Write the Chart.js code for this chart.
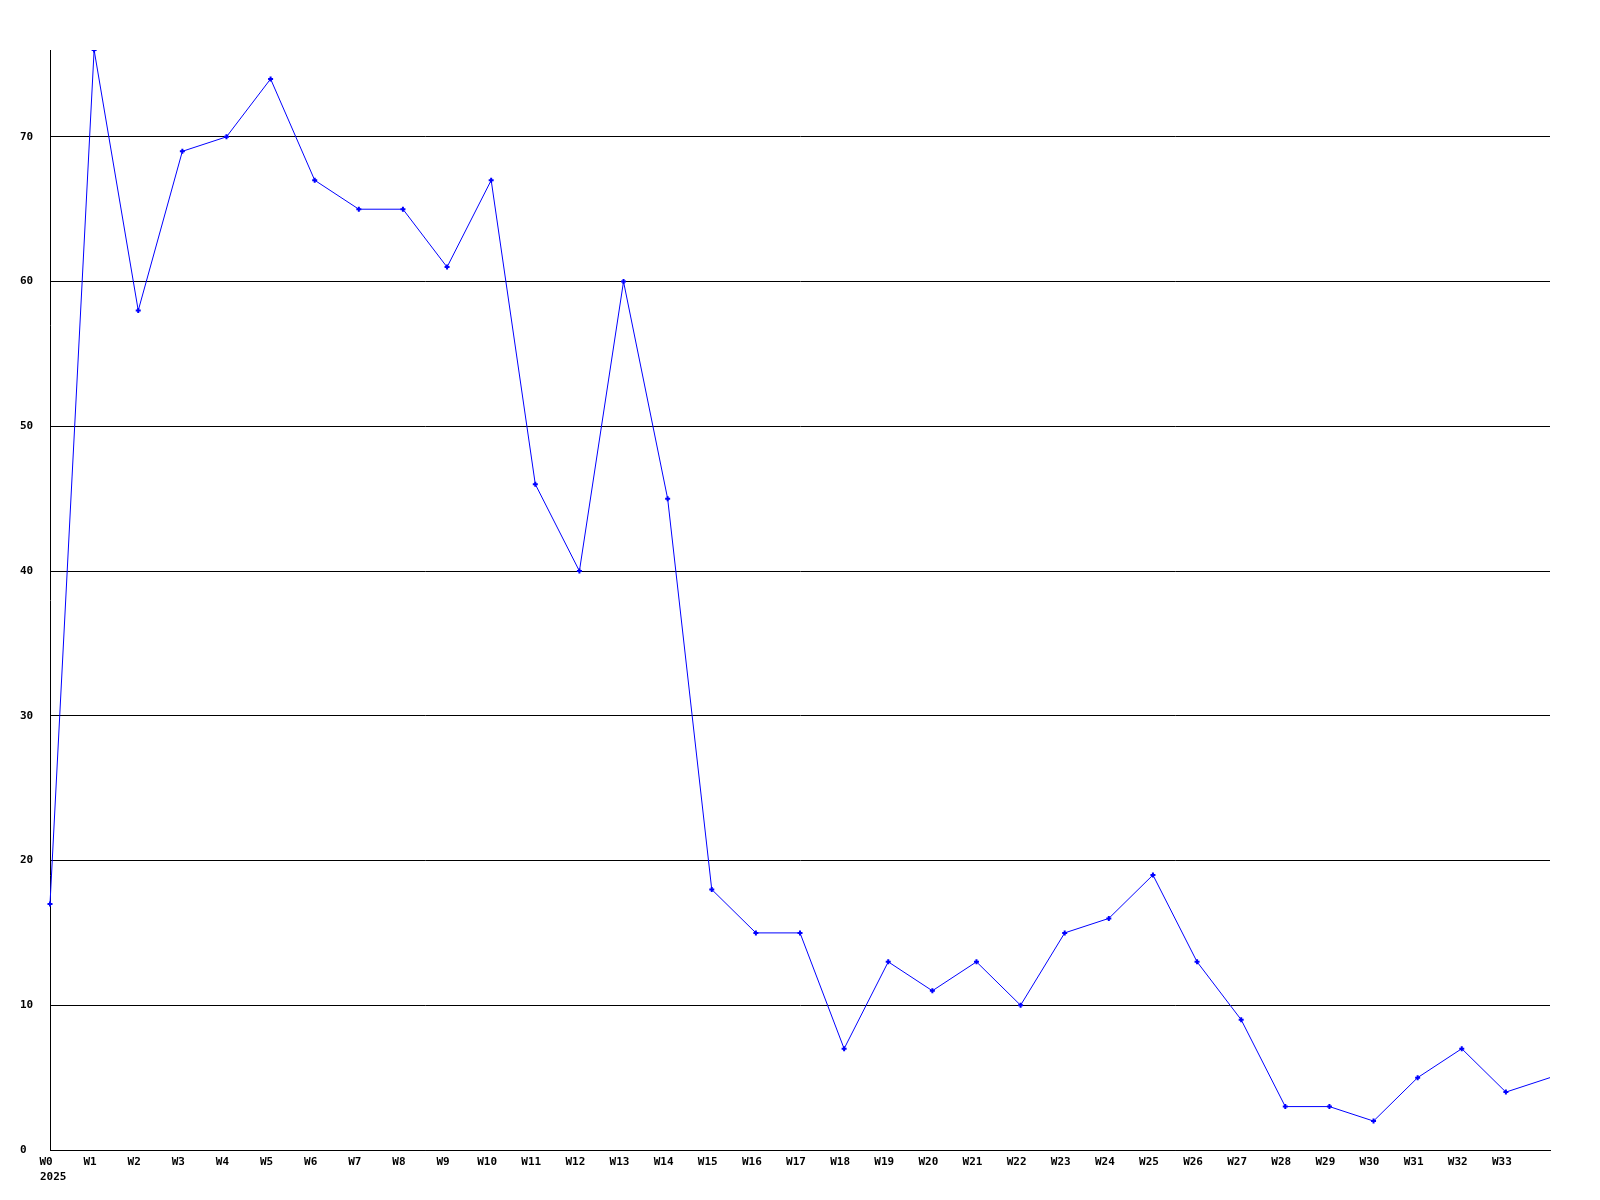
<!DOCTYPE html>
<html>
<head>
<meta charset="utf-8">
<script src="https://cdn.jsdelivr.net/npm/chart.js@4"></script>
<style>
  body { margin: 0; background: #fff; }
  canvas { display: block; }
</style>
</head>
<body>
<canvas id="myChart" width="1600" height="1200"></canvas>
<script>
// weekly values
const weeks = ["W0", "W1", "W2", "W3", "W4", "W5", "W6", "W7", "W8", "W9",
  "W10", "W11", "W12", "W13", "W14", "W15", "W16", "W17", "W18", "W19",
  "W20", "W21", "W22", "W23", "W24", "W25", "W26", "W27", "W28", "W29",
  "W30", "W31", "W32", "W33", ""];
const counts = [17, 76, 58, 69, 70, 74, 67, 65, 65, 61,
  67, 46, 40, 60, 45, 18, 15, 15, 7, 13,
  11, 13, 10, 15, 16, 19, 13, 9, 3, 3,
  2, 5, 7, 4, 5];
const yearLabel = "2025";
const yMax = 76;
const yStep = 10;

const font = { family: "'DejaVu Sans Mono', monospace", size: 11, weight: "bold" };

// year under the first week label
const yearPlugin = {
  id: "yearLabel",
  afterDraw(chart) {
    const x = chart.scales.x;
    const ctx = chart.ctx;
    ctx.save();
    ctx.font = "bold 11px 'DejaVu Sans Mono', monospace";
    ctx.fillStyle = "#000";
    ctx.textAlign = "left";
    ctx.textBaseline = "top";
    ctx.fillText(yearLabel, x.getPixelForValue(0) - 10, x.bottom - 28);
    ctx.restore();
  }
};

const ctx = document.getElementById("myChart");
new Chart(ctx, {
  type: "line",
  data: {
    labels: weeks,
    datasets: [
      {
        data: counts,
        borderColor: "#0000ff",
        backgroundColor: "#0000ff",
        borderWidth: 1,
        pointStyle: "cross",
        // last point is unfinished week: no marker
        pointRadius: (c) => (c.dataIndex === counts.length - 1 ? 0 : 2.5),
        pointBorderWidth: 2,
        pointBorderColor: "#0000ff",
        tension: 0,
      },
    ],
  },
  options: {
    responsive: false,
    animation: false,
    devicePixelRatio: 1,
    layout: { padding: { left: 20, top: 50, right: 50, bottom: 0 } },
    plugins: { legend: { display: false }, tooltip: { enabled: false } },
    scales: {
      x: {
        offset: false,
        grid: { display: false, drawTicks: false },
        border: { display: true, color: "#000", width: 1 },
        ticks: {
          color: "#000",
          font: font,
          autoSkip: false,
          maxRotation: 0,
          padding: 6,
          labelOffset: -4,
        },
        afterFit(scale) { scale.height = 50; },
      },
      y: {
        min: 0,
        max: yMax,
        grid: { color: "#000", lineWidth: 1, drawTicks: false },
        border: { display: true, color: "#000", width: 1 },
        ticks: { stepSize: yStep, color: "#000", font: font, crossAlign: "far" },
        afterBuildTicks(scale) {
          scale.ticks = scale.ticks.filter(t => t.value % yStep === 0);
        },
        afterFit(scale) { scale.width = 30; },
      },
    },
  },
  plugins: [yearPlugin],
});
</script>
</body>
</html>
